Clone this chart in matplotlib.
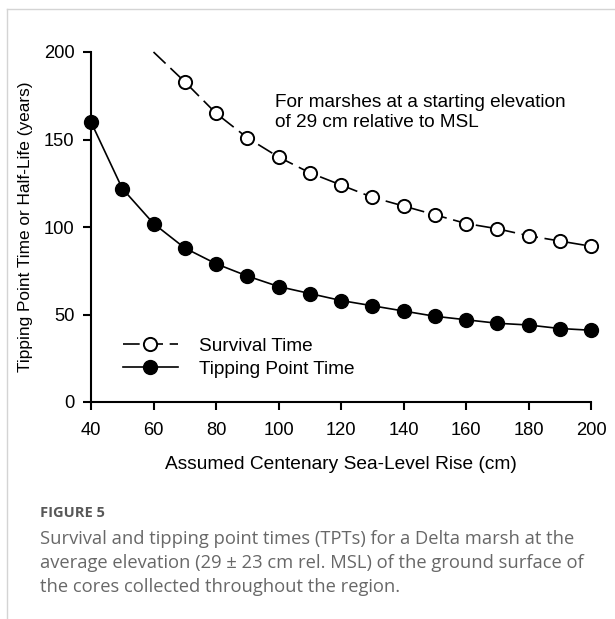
import matplotlib.pyplot as plt
from matplotlib.lines import Line2D

# data
slr = [40, 50, 60, 70, 80, 90, 100, 110, 120, 130, 140, 150, 160, 170, 180, 190, 200]
tipping = [160, 122, 102, 88, 79, 72, 66, 62, 58, 55, 52, 49, 47, 45, 44, 42, 41]
slr_surv = [60, 70, 80, 90, 100, 110, 120, 130, 140, 150, 160, 170, 180, 190, 200]
survival = [200, 183, 165, 151, 140, 131, 124, 117, 112, 107, 102, 99, 95, 92, 89]

plt.rcParams['font.family'] = ['Liberation Sans', 'DejaVu Sans']

fig = plt.figure(figsize=(6.15, 6.19), dpi=100)
ax = fig.add_axes([91 / 615, 1 - 402 / 619, 500 / 615, 350 / 619])

ax.plot(slr_surv, survival, color='black', lw=1.2, dashes=(10, 4),
        marker='o', markersize=9.5, markerfacecolor='white', markeredgecolor='black',
        markeredgewidth=1.4, markevery=list(range(1, len(slr_surv))),
        label='Survival Time', clip_on=False)
ax.plot(slr, tipping, color='black', lw=1.2, marker='o', markersize=10,
        markerfacecolor='black', label='Tipping Point Time', clip_on=False)

ax.set_xlim(40, 200)
ax.set_ylim(0, 200)
ax.set_xticks(range(40, 201, 20))
ax.set_yticks(range(0, 201, 50))
ax.spines['top'].set_visible(False)
ax.spines['right'].set_visible(False)
ax.spines['left'].set_linewidth(1.5)
ax.spines['bottom'].set_linewidth(1.5)
ax.tick_params(direction='out', length=6, width=1.5, labelsize=13.2, pad=6)
ax.tick_params(axis='x', pad=8.5)
ax.set_xlabel('Assumed Centenary Sea-Level Rise (cm)', fontsize=13.8, labelpad=12)
ax.set_ylabel('Tipping Point Time or Half-Life (years)', fontsize=12.4, labelpad=8)

ax.text(0.368, 0.88, 'For marshes at a starting elevation\nof 29 cm relative to MSL',
        transform=ax.transAxes, fontsize=13.7, va='top', ha='left', linespacing=1.2)

ax.legend(loc='lower left', bbox_to_anchor=(0.029, 0.02), frameon=False, fontsize=13.7,
          handlelength=2.9, handletextpad=1.1, labelspacing=0.3)

# caption
fig.text(40 / 615, 1 - 513 / 619, 'FIGURE 5', fontsize=10.5, color='#585858',
         family='Open Sans', fontweight='bold', va='center')
caption = ['Survival and tipping point times (TPTs) for a Delta marsh at the',
           'average elevation (29 ± 23 cm rel. MSL) of the ground surface of',
           'the cores collected throughout the region.']
for i, line in enumerate(caption):
    fig.text(40 / 615, 1 - (538.5 + 24.5 * i) / 619, line, fontsize=13.2, color='#686868',
             family='Open Sans', va='center')

# page frame lines
fig.add_artist(Line2D([7 / 615, 1], [1 - 9 / 619, 1 - 9 / 619], color='#d4d4d4', lw=1))
fig.add_artist(Line2D([7 / 615, 7 / 615], [0, 1 - 9 / 619], color='#d4d4d4', lw=1))

fig.savefig('out.png', dpi=100)
